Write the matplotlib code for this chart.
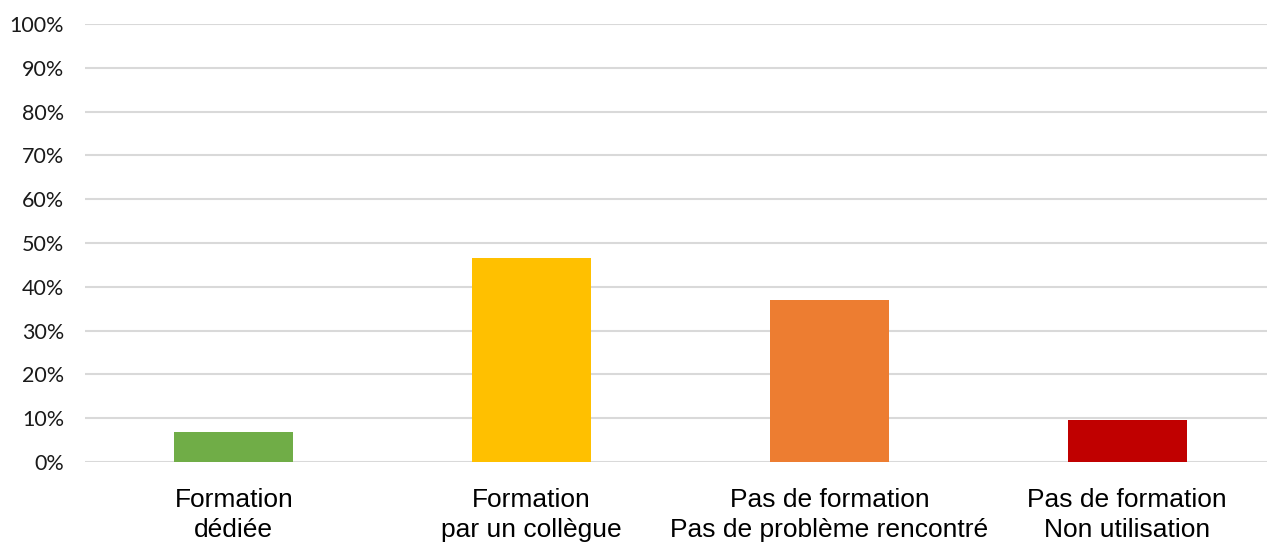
import matplotlib
matplotlib.use("Agg")
import matplotlib.pyplot as plt
from matplotlib.ticker import PercentFormatter

categories = ["Formation\ndédiée",
              "Formation\npar un collègue",
              "Pas de formation\nPas de problème rencontré",
              "Pas de formation\nNon utilisation"]
values = [6.9, 46.6, 37.0, 9.7]
colors = ["#70ad47", "#ffc000", "#ed7d31", "#c00000"]
y_ticks = list(range(0, 101, 10))

W, H = 1267, 548
fig = plt.figure(figsize=(W / 100, H / 100), dpi=100)
ax = fig.add_axes([85 / W, (H - 462) / H, (1267 - 85) / W, (462 - 24) / H])

x = range(len(categories))
ax.bar(x, values, width=0.4, color=colors, zorder=3)

ax.set_ylim(0, 100)
ax.set_xlim(-0.5, 3.47)
ax.set_yticks(y_ticks)
ax.yaxis.set_major_formatter(PercentFormatter(decimals=0))
ax.grid(axis="y", color="#d9d9d9", linewidth=1.5, zorder=0)
ax.set_axisbelow(True)

for s in ax.spines.values():
    s.set_visible(False)
ax.tick_params(axis="both", length=0)
ax.tick_params(axis="y", pad=15, labelsize=15.5, labelcolor="#1a1a1a")
for lab in ax.get_yticklabels():
    lab.set_family(["Lato", "DejaVu Sans"])

ax.set_xticks(list(x))
ax.set_xticklabels(categories, fontsize=19, family=["Liberation Sans", "DejaVu Sans"],
                   linespacing=1.3)
ax.tick_params(axis="x", pad=19)

fig.savefig("out.png", dpi=100)
